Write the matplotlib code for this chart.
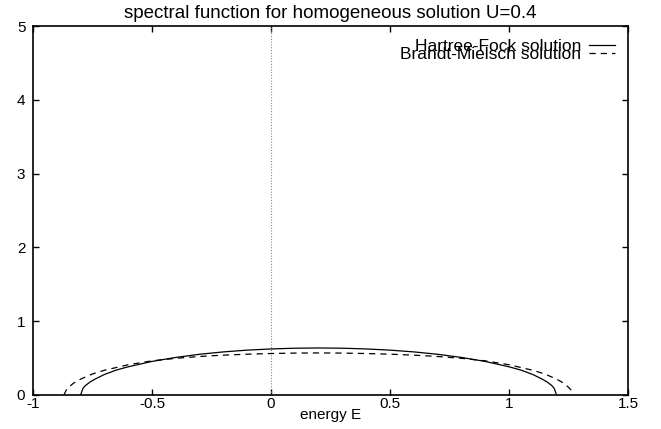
import numpy as np
import matplotlib.pyplot as plt

plt.rcParams['font.family'] = ['Liberation Sans', 'DejaVu Sans']
plt.rcParams['font.size'] = 11

# Hartree-Fock solution
hf_E = [-0.80, -0.79, -0.78, -0.76, -0.74, -0.70, -0.65, -0.60, -0.50, -0.40, -0.30, -0.20,
        -0.10, 0.00, 0.10, 0.20, 0.30, 0.40, 0.50, 0.60, 0.70, 0.80, 0.90, 1.00,
        1.05, 1.10, 1.14, 1.16, 1.18, 1.19, 1.20]
hf_A = [0.000, 0.090, 0.127, 0.177, 0.214, 0.278, 0.338, 0.382, 0.455, 0.509, 0.552, 0.584,
        0.608, 0.624, 0.634, 0.637, 0.634, 0.624, 0.608, 0.584, 0.552, 0.509, 0.455, 0.382,
        0.338, 0.278, 0.214, 0.177, 0.127, 0.090, 0.000]

# Brandt-Mielsch solution
bm_E = [-0.87, -0.86, -0.85, -0.83, -0.80, -0.75, -0.70, -0.60, -0.50, -0.40, -0.30, -0.20,
        -0.10, 0.00, 0.10, 0.20, 0.30, 0.40, 0.50, 0.60, 0.70, 0.80, 0.90, 1.00,
        1.10, 1.15, 1.20, 1.23, 1.25, 1.26, 1.27]
bm_A = [0.000, 0.070, 0.105, 0.160, 0.215, 0.285, 0.335, 0.410, 0.463, 0.497, 0.522, 0.540,
        0.553, 0.562, 0.568, 0.570, 0.568, 0.562, 0.553, 0.540, 0.522, 0.497, 0.463, 0.410,
        0.335, 0.285, 0.215, 0.160, 0.105, 0.070, 0.000]

fig = plt.figure(figsize=(6.61, 4.29), dpi=100)
ax = fig.add_axes([33 / 661, 1 - 395 / 429, 595 / 661, 369 / 429])

ax.axvline(0, color='#888888', lw=0.8, ls=(0, (1, 1.5)))
ax.plot(hf_E, hf_A, color='black', lw=0.9, label='Hartree-Fock solution')
ax.plot(bm_E, bm_A, color='black', lw=0.9, dashes=(5, 4), label='Brandt-Mielsch solution')

ax.set_xlim(-1, 1.5)
ax.set_ylim(0, 5)
ax.set_xticks([-1, -0.5, 0, 0.5, 1, 1.5])
ax.set_xticklabels(['-1', '-0.5', '0', '0.5', '1', '1.5'])
ax.set_yticks([0, 1, 2, 3, 4, 5])
ax.tick_params(direction='in', top=True, right=True, length=4.5, width=1.0)
ax.tick_params(axis='x', pad=1.5)
ax.tick_params(axis='y', pad=5.5)
for s in ax.spines.values():
    s.set_linewidth(1.2)

ax.set_title('spectral function for homogeneous solution U=0.4', fontsize=13.5, pad=6)
ax.set_xlabel('energy E', labelpad=-2)

ax.legend(loc='upper right', frameon=False, markerfirst=False, labelspacing=-0.4,
          handlelength=1.5, handletextpad=0.45, borderaxespad=0.35, fontsize=12.5)

fig.savefig('out.png', dpi=100)
